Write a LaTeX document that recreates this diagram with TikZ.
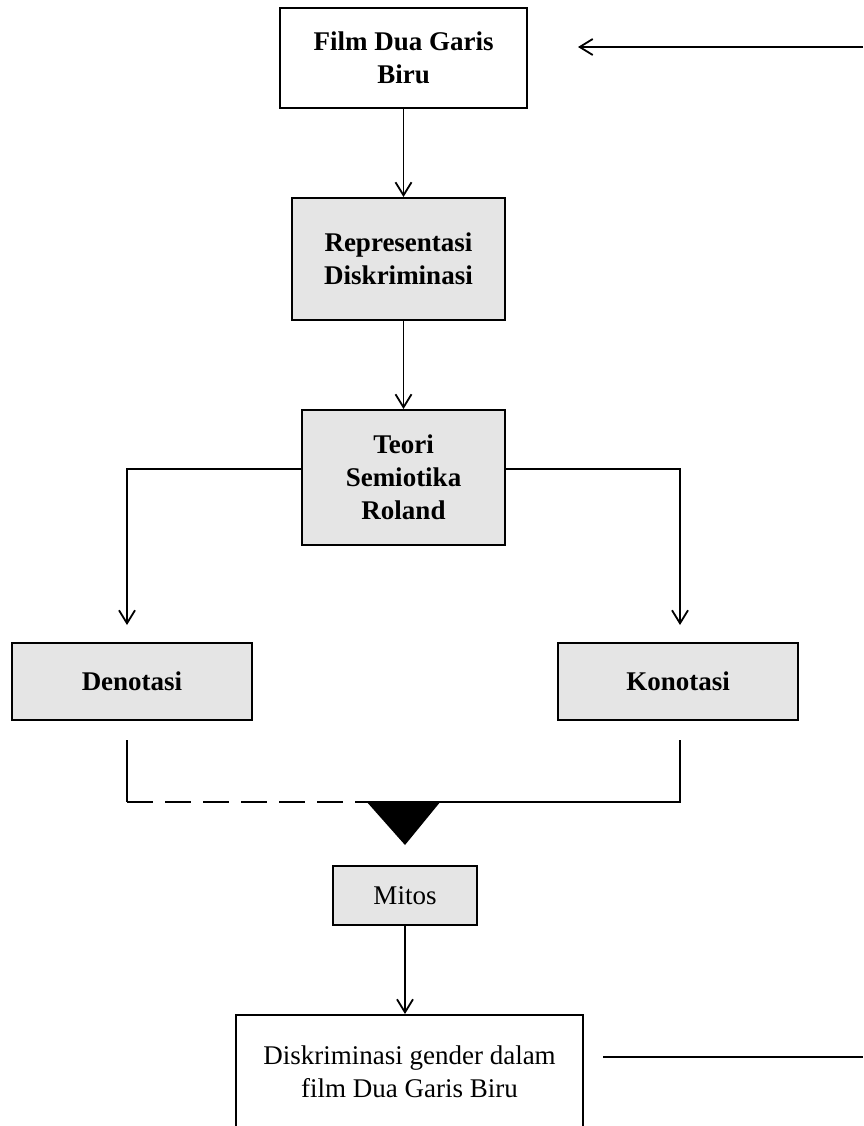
\documentclass[tikz,border=0pt]{standalone}
\usepackage{fontspec}
\setmainfont{Liberation Serif}
\usetikzlibrary{arrows.meta}
\begin{document}
\begin{tikzpicture}[x=1pt,y=-1pt,
  box/.style={draw, line width=2pt, align=center, inner sep=0pt, font=\fontsize{27}{33}\selectfont},
  gbox/.style={box, fill=gray!20},
  bbox/.style={box, font=\fontsize{27}{33}\selectfont\bfseries},
  gbbox/.style={bbox, fill=gray!20},
  arr/.style={line width=1.8pt, -{Straight Barb[length=13pt,width=16pt,line width=1.8pt]}},
  ln/.style={line width=2pt}]
\useasboundingbox (0,0) rectangle (863,1126);
\clip (0,0) rectangle (863,1126);
\node[bbox, minimum width=247pt, minimum height=100pt] (film) at (403.5,58) {Film Dua Garis\\Biru};
\node[gbbox, minimum width=213pt, minimum height=122pt] (rep) at (398.5,259) {Representasi\\Diskriminasi};
\node[gbbox, minimum width=203pt, minimum height=135pt] (teori) at (403.5,477.5) {Teori\\Semiotika\\Roland};
\node[gbbox, minimum width=240pt, minimum height=77pt] (den) at (132,681.5) {Denotasi};
\node[gbbox, minimum width=240pt, minimum height=77pt] (kon) at (678,681.5) {Konotasi};
\node[gbox, minimum width=144pt, minimum height=59pt] (mitos) at (405,895.5) {Mitos};
\node[box, minimum width=347pt, minimum height=114pt] (dk) at (409.5,1072) {Diskriminasi gender dalam\\film Dua Garis Biru};
% top feedback arrow
\coordinate (topr) at (863,47);
\coordinate (topl) at (578,47);
\draw[arr] (topr) -- (topl);
% vertical arrows
\draw[arr] (film.south) -- (film.south |- rep.north);
\draw[arr] (rep.south -| teori) -- (teori.north);
\coordinate (dl) at (127,625);
\coordinate (kr) at (680,625);
\draw[arr] ([yshift=8.5pt]teori.west) -| (dl);
\draw[arr] ([yshift=8.5pt]teori.east) -| (kr);
% merge
\coordinate (dt) at (127,740);
\coordinate (kt) at (680,740);
\coordinate (db) at (127,802);
\coordinate (kb) at (680,802);
\coordinate (tl) at (366,802);
\draw[ln] (dt) -- (db);
\draw[ln, dash pattern=on 26pt off 12pt] (db) -- (tl);
\draw[ln] (tl) -- (kb) -- (kt);
\fill (366,801) -- (441,801) -- (405,845) -- cycle;
\draw[arr] (mitos.south) -- (mitos.south |- dk.north);
% bottom line
\coordinate (bl) at (603,1057);
\coordinate (br) at (863,1057);
\draw[ln] (bl) -- (br);
\end{tikzpicture}
\end{document}
